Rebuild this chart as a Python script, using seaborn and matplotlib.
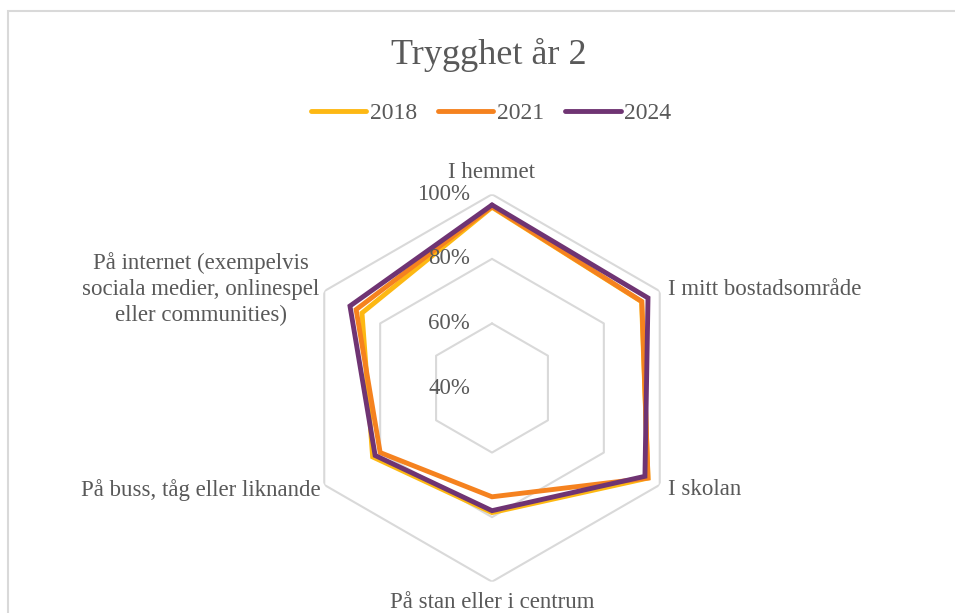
import numpy as np
import pandas as pd
import matplotlib
matplotlib.use("Agg")
import matplotlib.pyplot as plt
from matplotlib.transforms import offset_copy
from matplotlib.lines import Line2D
from matplotlib.patches import Rectangle
import seaborn as sns

# Survey categories (clockwise from the top) and share feeling safe (%)
categories = [
    "I hemmet",
    "I mitt bostadsområde",
    "I skolan",
    "På stan eller i centrum",
    "På buss, tåg eller liknande",
    "På internet (exempelvis\nsociala medier, onlinespel\neller communities)",
]
years = ["2018", "2021", "2024"]
values_2018 = [96.0, 93.5, 95.8, 78.6, 82.7, 86.5]
values_2021 = [96.2, 93.6, 95.8, 73.7, 80.0, 88.6]
values_2024 = [96.7, 95.8, 94.7, 78.0, 81.8, 90.8]
grid_levels = [60, 80, 100]
tick_values = [40, 60, 80, 100]
tick_labels = ["40%", "60%", "80%", "100%"]
r_min, r_max = 40, 100

colors = {"2018": "#FDB813", "2021": "#F5821F", "2024": "#6F3473"}
text_color = "#595959"
grid_color = "#D9D9D9"

sns.set_theme(style="white")
plt.rcParams["font.family"] = ["Liberation Serif", "DejaVu Serif"]

n = len(categories)
theta = np.linspace(0, 2 * np.pi, n, endpoint=False)
theta_closed = np.append(theta, 2 * np.pi)

rows = []
for year, vals in zip(years, [values_2018, values_2021, values_2024]):
    closed = list(vals) + [vals[0]]
    for i, (t, v) in enumerate(zip(theta_closed, closed)):
        rows.append({"theta": t, "value": v, "year": year, "order": i})
df = pd.DataFrame(rows)

W, H = 955, 613
fig = plt.figure(figsize=(W / 100, H / 100), dpi=100)
fig.patch.set_facecolor("white")

# Chart-area border
fig.add_artist(Rectangle((8 / W, -0.1), 1.1, 1.1 - 11 / H,
                         transform=fig.transFigure, fill=False,
                         edgecolor="#D9D9D9", linewidth=1.5))

cx, cy, R = 492, 388, 193.7
ax = fig.add_axes([(cx - R) / W, (H - cy - R) / H, 2 * R / W, 2 * R / H],
                  projection="polar")
ax.set_theta_offset(np.pi / 2)
ax.set_theta_direction(-1)
ax.set_ylim(r_min, r_max)
ax.grid(False)
ax.set_xticks([])
ax.set_yticks([])
ax.spines["polar"].set_visible(False)
ax.set_facecolor("none")

# Hexagonal gridlines
for lvl in grid_levels:
    ax.plot(theta_closed, [lvl] * (n + 1), color=grid_color, lw=1.5, zorder=1)

sns.lineplot(data=df, x="theta", y="value", hue="year", hue_order=years,
             palette=colors, sort=False, estimator=None, units="year",
             lw=3.5, legend=False, ax=ax, zorder=3)
for line in ax.lines[len(grid_levels):]:
    line.set_solid_joinstyle("miter")
ax.set_xlabel("")
ax.set_ylabel("")

fs = 16.5

# Radial tick labels, left of the top spoke
for lvl, lab in zip(tick_values, tick_labels):
    tr = offset_copy(ax.transData, fig=fig, x=-22, y=0, units="dots")
    ax.text(0, lvl, lab, transform=tr, ha="right", va="center",
            fontsize=fs, color=text_color, zorder=4)

# Category labels around the outer ring
label_specs = [
    (0, 22, "center", "center"),
    (8, 2, "left", "center"),
    (8, -5, "left", "center"),
    (0, -21, "center", "center"),
    (-4, -5, "right", "center"),
    (-5, 2, "right", "center"),
]
for t, cat, (dx, dy, ha, va) in zip(theta, categories, label_specs):
    tr = offset_copy(ax.transData, fig=fig, x=dx, y=dy, units="dots")
    ax.text(t, r_max, cat, transform=tr, ha=ha, va=va, fontsize=fs,
            color=text_color, multialignment="center", linespacing=1.3)

fig.text(489 / W, 1 - 55 / H, "Trygghet år 2", ha="center", va="center",
         fontsize=26, color=text_color)

handles = [Line2D([0], [0], color=colors[y], lw=3.5, solid_capstyle="round")
           for y in years]
fig.legend(handles, years, loc="center", ncol=3, frameon=False,
           bbox_to_anchor=(491 / W, 1 - 113 / H), fontsize=17,
           labelcolor=text_color, handlelength=2.35, handletextpad=0.15,
           columnspacing=0.9)

fig.savefig("out.png", dpi=100, facecolor="white")
